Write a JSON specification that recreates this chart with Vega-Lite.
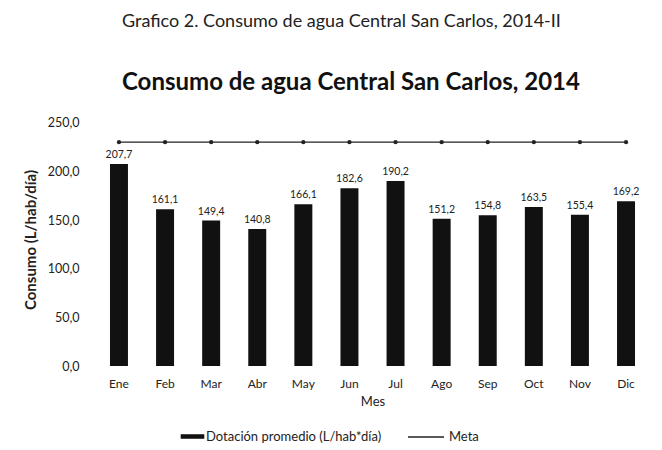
{
  "$schema": "https://vega.github.io/schema/vega-lite/v6.json",
  "width": 555,
  "height": 253,
  "autosize": {"type": "none"},
  "padding": {"left": 95, "top": 113, "right": 12, "bottom": 84},
  "background": "white",
  "config": {
    "locale": {"number": {"decimal": ",", "thousands": ".", "grouping": [3], "currency": ["", ""]}},
    "font": "Lato",
    "view": {"stroke": null},
    "axis": {"labelFont": "Lato", "titleFont": "Lato", "labelColor": "#222", "titleColor": "#222", "domain": false, "ticks": false, "grid": false},
    "legend": {"labelFont": "Lato", "labelFontSize": 13, "labelColor": "#222", "labelLimit": 400}
  },
  "title": {
    "text": "Grafico 2. Consumo de agua Central San Carlos, 2014-II",
    "subtitle": "Consumo de agua Central San Carlos, 2014",
    "font": "Lato",
    "fontSize": 18,
    "fontWeight": "normal",
    "color": "#222",
    "subtitleFont": "Lato",
    "subtitleFontSize": 24,
    "subtitleFontWeight": "bold",
    "subtitleColor": "#111",
    "subtitlePadding": 40,
    "offset": 18,
    "anchor": "start",
    "frame": "group",
    "dx": 27
  },
  "data": {
    "values": [
      {"mes": "Ene", "dotacion": 207.7, "meta": 230},
      {"mes": "Feb", "dotacion": 161.1, "meta": 230},
      {"mes": "Mar", "dotacion": 149.4, "meta": 230},
      {"mes": "Abr", "dotacion": 140.8, "meta": 230},
      {"mes": "May", "dotacion": 166.1, "meta": 230},
      {"mes": "Jun", "dotacion": 182.6, "meta": 230},
      {"mes": "Jul", "dotacion": 190.2, "meta": 230},
      {"mes": "Ago", "dotacion": 151.2, "meta": 230},
      {"mes": "Sep", "dotacion": 154.8, "meta": 230},
      {"mes": "Oct", "dotacion": 163.5, "meta": 230},
      {"mes": "Nov", "dotacion": 155.4, "meta": 230},
      {"mes": "Dic", "dotacion": 169.2, "meta": 230}
    ]
  },
  "encoding": {
    "x": {
      "field": "mes", "type": "nominal", "sort": null,
      "scale": {"paddingInner": 0.61, "paddingOuter": 0.325},
      "axis": {"title": "Mes", "labelAngle": 0, "labelFontSize": 12, "labelPadding": 12, "titleFontSize": 13, "titleFontWeight": "normal", "titlePadding": 6}
    }
  },
  "layer": [
    {
      "mark": {"type": "bar", "color": "#111"},
      "encoding": {
        "y": {
          "field": "dotacion", "type": "quantitative",
          "scale": {"domain": [0, 250]},
          "axis": {"title": "Consumo (L/hab/día)", "values": [0, 50, 100, 150, 200, 250], "format": ".1f", "labelFontSize": 12.5, "labelPadding": 16, "titleFontSize": 15, "titleFontWeight": "bold", "titlePadding": 9}
        },
        "color": {
          "datum": "Dotación promedio (L/hab*día)",
          "scale": {"range": ["#111"]},
          "legend": {"title": null, "orient": "none", "legendX": 88, "legendY": 314, "symbolType": "M-1.3,-0.25H1.3V0.25H-1.3Z", "symbolSize": 330, "symbolStrokeWidth": 0}
        }
      }
    },
    {
      "mark": {"type": "text", "dy": -9, "fontSize": 10.5, "color": "#222", "font": "Lato"},
      "encoding": {
        "y": {"field": "dotacion", "type": "quantitative"},
        "text": {"field": "dotacion", "type": "quantitative", "format": ".1f"}
      }
    },
    {
      "mark": {"type": "line", "strokeWidth": 1.3, "point": {"filled": true, "size": 18, "color": "#222"}},
      "encoding": {
        "y": {"field": "meta", "type": "quantitative"},
        "color": {
          "datum": "Meta",
          "scale": {"range": ["#222"]},
          "legend": {"title": null, "orient": "none", "legendX": 312, "legendY": 305, "symbolType": "stroke", "symbolSize": 1300, "symbolStrokeWidth": 1.5}
        }
      }
    }
  ],
  "resolve": {"scale": {"color": "independent"}, "legend": {"color": "independent"}}
}
